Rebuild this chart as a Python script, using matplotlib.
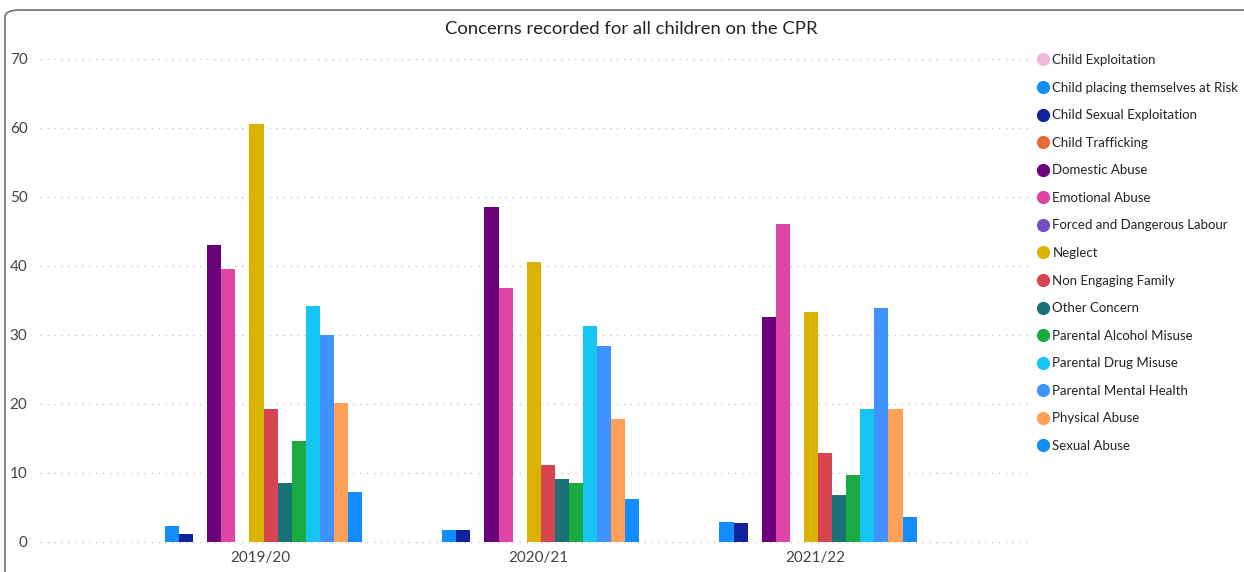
import matplotlib
matplotlib.use("Agg")
import matplotlib.pyplot as plt
from matplotlib.lines import Line2D
from matplotlib.patches import FancyBboxPatch
import numpy as np

plt.rcParams['font.family'] = ['Lato', 'DejaVu Sans']

years = ["2019/20", "2020/21", "2021/22"]
categories = [
    "Child Exploitation", "Child placing themselves at Risk", "Child Sexual Exploitation",
    "Child Trafficking", "Domestic Abuse", "Emotional Abuse", "Forced and Dangerous Labour",
    "Neglect", "Non Engaging Family", "Other Concern", "Parental Alcohol Misuse",
    "Parental Drug Misuse", "Parental Mental Health", "Physical Abuse", "Sexual Abuse",
]
colors = [
    "#F4B6DC", "#118DFF", "#12239E", "#E66C37", "#6B007B", "#E044A7", "#744EC2",
    "#D9B300", "#D64550", "#197278", "#1AAB40", "#15C6F4", "#4092FF", "#FFA058", "#118DFF",
]
values_2019 = [0, 2.2, 1.1, 0, 43.0, 39.6, 0, 60.6, 19.2, 8.5, 14.6, 34.2, 29.9, 20.1, 7.2]
values_2020 = [0, 1.7, 1.6, 0, 48.6, 36.8, 0, 40.5, 11.1, 9.1, 8.5, 31.3, 28.3, 17.7, 6.1]
values_2021 = [0, 2.8, 2.7, 0, 32.6, 46.1, 0, 33.3, 12.9, 6.8, 9.6, 19.2, 33.9, 19.2, 3.6]

data = np.array([values_2019, values_2020, values_2021])  # years x categories

W, H = 1244, 572
fig = plt.figure(figsize=(W / 100, H / 100), dpi=100)

# rounded card border
card = FancyBboxPatch((5 / W, -20 / H), (W + 40) / W, (H - 10 + 20) / H,
                      boxstyle="round,pad=0,rounding_size=0.012",
                      transform=fig.transFigure, facecolor="white",
                      edgecolor="#7a7a7a", linewidth=1.3, zorder=-10)
fig.patches.append(card)

ax_left, ax_right = 40 / W, 1030 / W
ax_bottom, ax_top = 1 - 541.5 / H, 1 - 59 / H
ax = fig.add_axes([ax_left, ax_bottom, ax_right - ax_left, ax_top - ax_bottom])
ax.set_facecolor("none")

x = np.arange(len(years))
bw = 0.0508
n = len(categories)
for i, (cat, col) in enumerate(zip(categories, colors)):
    ax.bar(x + (i - (n - 1) / 2) * bw, data[:, i], width=bw, color=col,
           label=cat, zorder=3, linewidth=0)

ax.set_xlim(-0.781, 2.79)
ax.set_ylim(0, 70)
ax.set_yticks(np.arange(0, 71, 10))
ax.set_xticks(x + 0.015)
ax.set_xticklabels(years)
for s in ax.spines.values():
    s.set_visible(False)
ax.tick_params(axis='both', length=0, colors="#444444", labelsize=11)
ax.tick_params(axis='y', pad=9)
ax.tick_params(axis='x', pad=7)
ax.grid(axis='y', linestyle=(0, (1, 4)), color="#c8c8c8", linewidth=1, zorder=0)
for gl in ax.get_ygridlines():
    gl.set_clip_on(False)

fig.text(631 / W, 1 - 29 / H, "Concerns recorded for all children on the CPR",
         ha="center", va="center", fontsize=13.3, color="#252423")

handles = [Line2D([0], [0], marker='o', linestyle='none', markersize=8.5,
                  markerfacecolor=c, markeredgecolor=c) for c in colors]
fig.legend(handles, categories, loc="upper left", bbox_to_anchor=(1036 / W, 1 - 54 / H),
           frameon=False, fontsize=9.5, labelspacing=1.18, handletextpad=0.25,
           handlelength=1.0, borderaxespad=0, borderpad=0, labelcolor="#252423")

fig.savefig("out.png", dpi=100)
